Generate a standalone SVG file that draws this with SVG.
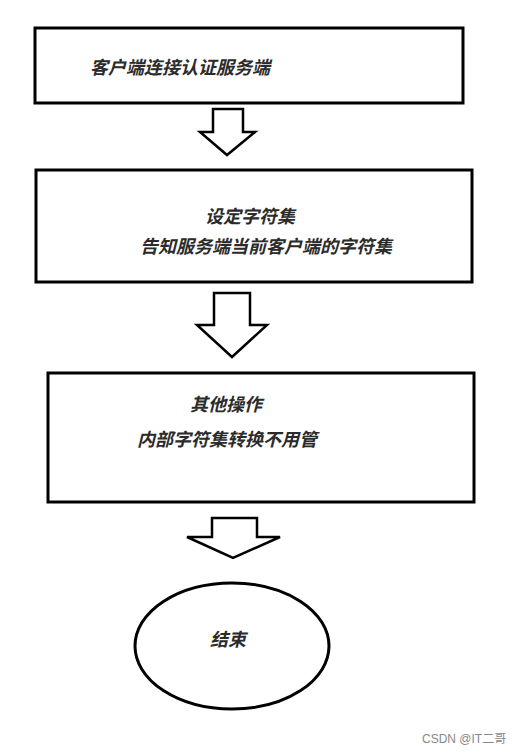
<svg xmlns="http://www.w3.org/2000/svg" width="526" height="754" viewBox="0 0 526 754">
<style>
.box{fill:#fff;stroke:#000;stroke-width:3}
.arr{fill:#fff;stroke:#000;stroke-width:2.5;stroke-linejoin:miter}
.t{font-family:"Noto Sans CJK SC","Noto Sans",sans-serif;font-size:18px;font-weight:bold;font-style:italic;fill:#2b2b2b}
.wm{font-family:"Liberation Sans","Noto Sans CJK SC",sans-serif;font-size:12px;fill:#888}
</style>
<rect width="526" height="754" fill="#fff"/>
<g id="node1">
<rect class="box" x="35" y="28" width="428" height="75"/>
<text class="t" x="90" y="74">客户端连接认证服务端</text>
</g>
<g id="node2">
<rect class="box" x="36" y="170" width="436" height="112"/>
<text class="t" x="205" y="223">设定字符集</text>
<text class="t" x="140" y="253">告知服务端当前客户端的字符集</text>
</g>
<g id="node3">
<rect class="box" x="48" y="373" width="426" height="129"/>
<text class="t" x="190" y="411">其他操作</text>
<text class="t" x="137" y="446">内部字符集转换不用管</text>
</g>
<g id="node4">
<ellipse class="box" cx="232" cy="646" rx="97" ry="63"/>
<text class="t" x="210" y="646">结束</text>
</g>
<g id="connectors">
<polygon class="arr" points="213,109 243,109 243,132 255,132 227,155 200,132 213,132"/>
<polygon class="arr" points="214,293 250,293 250,325 267,325 232,357 197,325 214,325"/>
<polygon class="arr" points="212,518 257,518 257,537 280,537 233,558 187,537 212,537"/>
</g>
<text class="wm" x="422" y="743">CSDN @IT二哥</text>
</svg>
